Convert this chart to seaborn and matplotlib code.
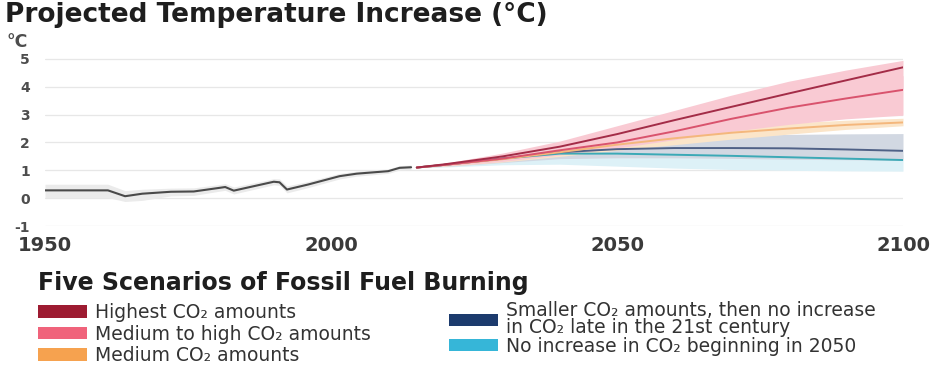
import matplotlib
matplotlib.use("Agg")
import matplotlib.pyplot as plt
from matplotlib.patches import Patch
import pandas as pd
import seaborn as sns

# Observed temperature anomaly (°C) with its uncertainty envelope
hist_years = [1950, 1961, 1964, 1967, 1972, 1976, 1980.5, 1981.5, 1983, 1990, 1991,
              1992.3, 1996, 2001.5, 2004.5, 2010, 2012, 2014]
hist_temp = [0.28, 0.28, 0.07, 0.16, 0.23, 0.24, 0.37, 0.40, 0.27, 0.59, 0.57,
             0.31, 0.49, 0.79, 0.88, 0.97, 1.09, 1.11]
hist_hi = [0.50, 0.50, 0.27, 0.32, 0.36, 0.37, 0.49, 0.52, 0.40, 0.70, 0.69,
           0.44, 0.60, 0.89, 0.97, 1.05, 1.17, 1.19]
hist_lo = [0.02, 0.02, -0.12, -0.08, 0.08, 0.10, 0.25, 0.28, 0.15, 0.48, 0.46,
           0.19, 0.38, 0.69, 0.79, 0.89, 1.01, 1.03]

# Projections for the five scenarios
proj_years = [2015, 2020, 2030, 2040, 2050, 2060, 2070, 2080, 2090, 2100]
highest = [1.10, 1.22, 1.50, 1.85, 2.30, 2.80, 3.28, 3.76, 4.23, 4.70]
med_high = [1.10, 1.20, 1.42, 1.72, 2.00, 2.40, 2.85, 3.25, 3.58, 3.89]
medium = [1.10, 1.20, 1.40, 1.65, 1.92, 2.15, 2.35, 2.50, 2.63, 2.72]
smaller = [1.10, 1.20, 1.42, 1.65, 1.76, 1.80, 1.80, 1.79, 1.75, 1.70]
no_inc = [1.10, 1.20, 1.42, 1.60, 1.60, 1.56, 1.52, 1.47, 1.42, 1.37]

highest_lo = [1.10, 1.18, 1.40, 1.70, 2.05, 2.45, 2.85, 3.25, 3.60, 3.90]
highest_hi = [1.10, 1.26, 1.62, 2.05, 2.60, 3.15, 3.70, 4.20, 4.60, 4.95]
med_high_lo = [1.10, 1.16, 1.32, 1.55, 1.80, 2.10, 2.40, 2.65, 2.85, 2.98]
med_high_hi = [1.10, 1.24, 1.52, 1.90, 2.30, 2.80, 3.30, 3.75, 4.10, 4.40]
medium_lo = [1.10, 1.15, 1.30, 1.50, 1.72, 1.92, 2.12, 2.30, 2.47, 2.60]
medium_hi = [1.10, 1.24, 1.50, 1.80, 2.10, 2.35, 2.55, 2.70, 2.80, 2.87]
smaller_lo = [1.10, 1.14, 1.28, 1.42, 1.45, 1.45, 1.43, 1.40, 1.38, 1.36]
smaller_hi = [1.10, 1.25, 1.55, 1.85, 2.05, 2.17, 2.25, 2.29, 2.31, 2.32]
no_inc_lo = [1.10, 1.12, 1.20, 1.22, 1.15, 1.08, 1.03, 1.00, 0.98, 0.97]
no_inc_hi = [1.10, 1.24, 1.55, 1.75, 1.78, 1.72, 1.68, 1.64, 1.60, 1.56]

scenario_labels = [
    "Highest CO\u2082 amounts",
    "Medium to high CO\u2082 amounts",
    "Medium CO\u2082 amounts",
    "Smaller CO\u2082 amounts, then no increase\nin CO\u2082 late in the 21st century",
    "No increase in CO\u2082 beginning in 2050",
]
swatch_colors = ["#9d1b31", "#f0637b", "#f6a24f", "#1c3b6d", "#36b6d8"]
line_colors = ["#a32c47", "#d9536d", "#f4b77c", "#4f6186", "#3ba9b6"]
band_colors = ["#f9cad3", "#f9cad3", "#fbe5c9", "#d2d8e2", "#ddf1f7"]

x_ticks = [1950, 2000, 2050, 2100]
y_ticks = [-1, 0, 1, 2, 3, 4, 5]

sns.set_theme(style="white")
plt.rcParams["font.family"] = ["DejaVu Sans"]

fig = plt.figure(figsize=(9.45, 3.69), dpi=100)
W, H = 945, 369
ax = fig.add_axes([45 / W, 1 - 226 / H, 858 / W, (226 - 53.4) / H])

# Uncertainty envelopes, lowest scenario first
bands = [(no_inc_lo, no_inc_hi), (smaller_lo, smaller_hi), (medium_lo, medium_hi),
         (med_high_lo, med_high_hi), (highest_lo, highest_hi)]
for (lo, hi), col in zip(bands, band_colors[::-1]):
    ax.fill_between(proj_years, lo, hi, color=col, lw=0, zorder=1)
ax.fill_between(hist_years, hist_lo, hist_hi, color="#ebebeb", lw=0, zorder=1)

# Observed record
hist_df = pd.DataFrame({"year": hist_years, "temp": hist_temp})
sns.lineplot(data=hist_df, x="year", y="temp", color="#4a4a4a", lw=1.5, ax=ax, zorder=3)

# Scenario lines
series = [highest, med_high, medium, smaller, no_inc]
proj_df = pd.concat(
    [pd.DataFrame({"year": proj_years, "temp": vals, "scenario": lab})
     for lab, vals in zip(scenario_labels, series)],
    ignore_index=True,
)
palette = dict(zip(scenario_labels, line_colors))
sns.lineplot(data=proj_df, x="year", y="temp", hue="scenario",
             hue_order=scenario_labels[::-1], palette=palette, lw=1.4,
             legend=False, ax=ax, zorder=3)

ax.set_xlim(1950, 2100)
ax.set_ylim(-1, 5.2)
ax.set_xlabel("")
ax.set_ylabel("")
for s in ax.spines.values():
    s.set_visible(False)

ax.set_yticks(y_ticks)
ax.set_yticklabels([str(v) for v in y_ticks])
ax.yaxis.grid(True, color="#e7e7e7", lw=0.9)
ax.set_axisbelow(True)
ax.tick_params(axis="y", length=0, pad=11, labelsize=10, labelcolor="#4d4d4d")
for t in ax.get_yticklabels():
    t.set_fontweight("bold")

ax.set_xticks(x_ticks)
ax.set_xticks(list(range(1960, 2100, 10)), minor=True)
ax.set_xticklabels([str(v) for v in x_ticks])
ax.tick_params(axis="x", which="both", length=4, width=1, color="#d3d3d3",
               pad=3, labelsize=14, labelcolor="#3a3a3a")
for t in ax.get_xticklabels():
    t.set_fontweight("bold")

fig.text(5 / W, 1 - 15 / H, "Projected Temperature Increase (°C)",
         fontsize=19, fontweight="bold", color="#1e1e1e", va="center", ha="left")
fig.text(7 / W, 1 - 42 / H, "°C", fontsize=12.5, fontweight="bold",
         color="#4d4d4d", va="center", ha="left")

# Scenario key below the chart
fig.text(38 / W, 1 - 283 / H, "Five Scenarios of Fossil Fuel Burning",
         fontsize=17, fontweight="bold", color="#1e1e1e", va="center", ha="left")
handles = [Patch(facecolor=c, edgecolor="none") for c in swatch_colors]
common = dict(frameon=False, fontsize=13.5, handlelength=2.6, handleheight=0.65,
              handletextpad=0.45, borderpad=0, borderaxespad=0, labelcolor="#333333")
leg1 = fig.legend(handles[:3], scenario_labels[:3], loc="upper left",
                  bbox_to_anchor=(38 / W, 1 - 303 / H), labelspacing=0.14, **common)
leg2 = fig.legend(handles[3:], scenario_labels[3:], loc="upper left",
                  bbox_to_anchor=(449 / W, 1 - 301 / H), labelspacing=0.0, **common)
for t in leg2.get_texts():
    t.set_linespacing(0.85)

fig.savefig("out.png", dpi=100, facecolor="white")
